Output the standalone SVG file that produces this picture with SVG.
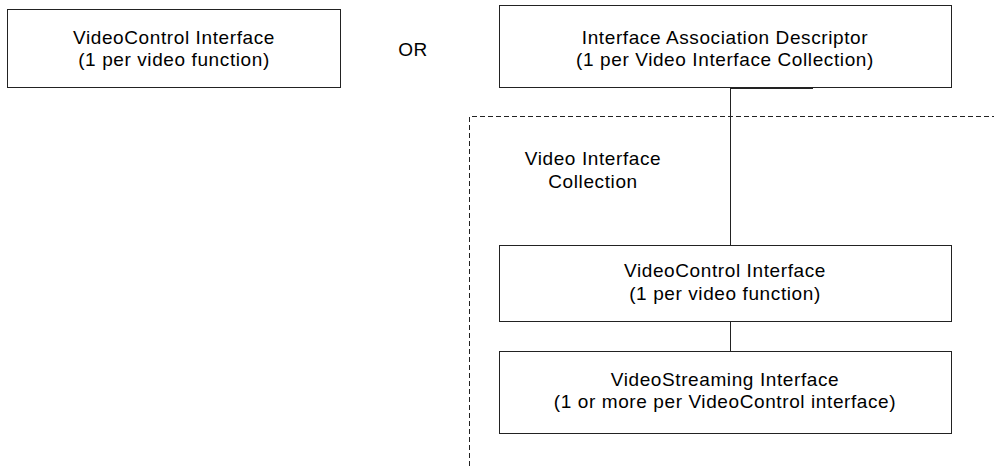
<svg xmlns="http://www.w3.org/2000/svg" width="994" height="466" viewBox="0 0 994 466">
<style>
.box{fill:#fff;stroke:#222;stroke-width:1}
.t{font-family:"Liberation Sans",Arial,sans-serif;font-size:19px;letter-spacing:0.6px;fill:#000;text-anchor:middle}
.c{stroke:#222;stroke-width:1;fill:none}
.d{stroke:#222;stroke-width:1;fill:none;stroke-dasharray:5 3}
</style>
<rect width="994" height="466" fill="#fff"/>
<g id="collection">
<path class="d" d="M469.5,466 V116.5 H994"/>
<text class="t" x="593" y="165">Video Interface</text>
<text class="t" x="593" y="188">Collection</text>
</g>
<g id="connectors">
<line class="c" x1="730.5" y1="88" x2="730.5" y2="245"/>
<line class="c" x1="730.5" y1="88.5" x2="813" y2="88.5" stroke-width="1.5"/>
<line class="c" x1="730.5" y1="322" x2="730.5" y2="351"/>
</g>
<g id="vc-left">
<rect class="box" x="7.5" y="9.5" width="333" height="78"/>
<text class="t" x="174" y="44">VideoControl Interface</text>
<text class="t" x="174" y="66">(1 per video function)</text>
</g>
<g id="or">
<text class="t" x="413" y="56">OR</text>
</g>
<g id="iad">
<rect class="box" x="499.5" y="5.5" width="452" height="82"/>
<text class="t" x="725" y="44">Interface Association Descriptor</text>
<text class="t" x="725" y="66">(1 per Video Interface Collection)</text>
</g>
<g id="vc">
<rect class="box" x="499.5" y="245.5" width="452" height="76"/>
<text class="t" x="725" y="277">VideoControl Interface</text>
<text class="t" x="725" y="300">(1 per video function)</text>
</g>
<g id="vs">
<rect class="box" x="499.5" y="351.5" width="452" height="82"/>
<text class="t" x="725" y="386">VideoStreaming Interface</text>
<text class="t" x="725" y="408">(1 or more per VideoControl interface)</text>
</g>
</svg>
